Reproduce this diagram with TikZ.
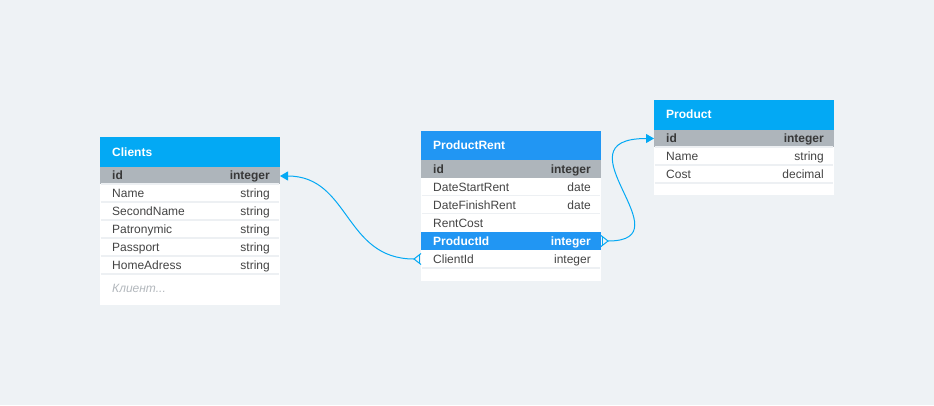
\documentclass[tikz,border=0pt]{standalone}
\usepackage{fontspec}
\setmainfont{Liberation Sans}
\usetikzlibrary{arrows.meta,calc}
\definecolor{bgc}{HTML}{EEF2F5}
\definecolor{hdrA}{HTML}{03A9F4}
\definecolor{hdrB}{HTML}{2196F3}
\definecolor{pkrow}{HTML}{AEB5BB}
\definecolor{sepc}{HTML}{EDF0F3}
\definecolor{txt}{HTML}{444444}
\definecolor{pktxt}{HTML}{383838}
\definecolor{hint}{HTML}{B3B8BD}
\definecolor{linec}{HTML}{03A9F4}
\tikzset{
  cell/.style={anchor=north west, minimum width=180pt, inner sep=0pt, outer sep=0pt},
  hdr/.style={cell, minimum height=30pt},
  pk/.style={cell, fill=pkrow, minimum height=17pt},
  fld/.style={cell, fill=white, minimum height=18pt},
  hl/.style={cell, fill=hdrB, minimum height=18pt},
  foot/.style={cell, fill=white},
  lbl/.style={anchor=base west, inner sep=0pt, font=\fontsize{12}{14}\selectfont, text=txt},
  typ/.style={anchor=base east, inner sep=0pt, font=\fontsize{12}{14}\selectfont, text=txt},
  pkl/.style={lbl, text=pktxt, font=\fontsize{12}{14}\selectfont\bfseries},
  pkt/.style={typ, text=pktxt, font=\fontsize{12}{14}\selectfont\bfseries},
  title/.style={anchor=base west, inner sep=0pt, font=\fontsize{12}{14}\selectfont\bfseries, text=white},
  sep/.style={draw=sepc, line width=1.5pt},
  conn/.style={draw=linec, line width=1pt},
  tip/.style={-{Triangle[length=8pt,width=9pt]}}
}
\begin{document}
\begin{tikzpicture}[x=1pt,y=-1pt]
\fill[bgc] (0,0) rectangle (934,405);
\useasboundingbox (0,0) rectangle (934,405);

% ---------- Clients ----------
\node[hdr, fill=hdrA] (clh) at (100,137) {};
\node[title] (clt) at (112,156.3) {Clients};
\node[pk] (clid) at (100,167) {};
\node[fld] (clname) at (100,184) {};
\node[fld] (clsec) at (100,202) {};
\node[fld] (clpat) at (100,220) {};
\node[fld] (clpas) at (100,238) {};
\node[fld] (clhome) at (100,256) {};
\node[foot, minimum height=31pt] (clfoot) at (100,274) {};
\foreach \yy in {184,202,220,238,256,274}{\draw[sep] (100.75,\yy) -- (279.25,\yy);}
\node[pkl] (clidl) at (112,179.8) {id};
\node[pkt] (clidt) at (270,179.8) {integer};
\node[lbl] (c1l) at (112,197.3) {Name};          \node[typ] (c1t) at (270,197.3) {string};
\node[lbl] (c2l) at (112,215.3) {SecondName};    \node[typ] (c2t) at (270,215.3) {string};
\node[lbl] (c3l) at (112,233.3) {Patronymic};    \node[typ] (c3t) at (270,233.3) {string};
\node[lbl] (c4l) at (112,251.3) {Passport};      \node[typ] (c4t) at (270,251.3) {string};
\node[lbl] (c5l) at (112,269.3) {HomeAdress};    \node[typ] (c5t) at (270,269.3) {string};
\node[lbl, text=hint, font=\fontsize{12}{14}\selectfont\itshape] (clhint) at (112,292.8) {Клиент...};

% ---------- ProductRent ----------
\node[hdr, fill=hdrB, minimum height=29pt] (prh) at (421,131) {};
\node[title] (prt) at (433,149.5) {ProductRent};
\node[pk, minimum height=17.5pt] (prid) at (421,160) {};
\node[fld] (prstart) at (421,177.5) {};
\node[fld] (prfin) at (421,195.5) {};
\node[fld] (prcost) at (421,213.5) {};
\node[hl] (prprod) at (421,232) {};
\node[fld] (prclient) at (421,250) {};
\node[foot, minimum height=13pt] (prfoot) at (421,268) {};
\foreach \yy in {195.5,213.5,268}{\draw[sep] (421.75,\yy) -- (600.25,\yy);}
\node[pkl] (pridl) at (433,173.3) {id};
\node[pkt] (pridt) at (591,173.3) {integer};
\node[lbl] (p1l) at (433,191.3) {DateStartRent};  \node[typ] (p1t) at (591,191.3) {date};
\node[lbl] (p2l) at (433,209.3) {DateFinishRent}; \node[typ] (p2t) at (591,209.3) {date};
\node[lbl] (p3l) at (433,227.3) {RentCost};
\node[title] (p4l) at (433,245.3) {ProductId};
\node[title, anchor=base east] (p4t) at (591,245.3) {integer};
\node[lbl] (p5l) at (433,263.3) {ClientId};       \node[typ] (p5t) at (591,263.3) {integer};

% ---------- Product ----------
\node[hdr, fill=hdrA] (ph) at (654,100) {};
\node[title] (pt) at (666,118.3) {Product};
\node[pk] (pid) at (654,130) {};
\node[fld] (pname) at (654,147) {};
\node[fld] (pcost) at (654,165) {};
\node[foot, minimum height=12pt] (pfoot) at (654,183) {};
\foreach \yy in {147,165,183}{\draw[sep] (654.75,\yy) -- (833.25,\yy);}
\node[pkl] (pidl) at (666,142.8) {id};
\node[pkt] (pidt) at (824,142.8) {integer};
\node[lbl] (q1l) at (666,160.3) {Name}; \node[typ] (q1t) at (824,160.3) {string};
\node[lbl] (q2l) at (666,178.3) {Cost}; \node[typ] (q2t) at (824,178.3) {decimal};

% ---------- connectors ----------
% ClientId -> Clients.id
\coordinate (cfa) at ($(prclient.west)+(-7,0)$);
\coordinate (cfaU) at ($(prclient.west)+(0,-5.5)$);
\coordinate (cfaD) at ($(prclient.west)+(0,5.5)$);
\coordinate (cfaVU) at ($(prclient.west)+(-1.5,-5)$);
\coordinate (cfaVD) at ($(prclient.west)+(-1.5,5)$);
\coordinate (cla) at ($(clid.east)+(0,0.5)$);
\draw[conn] (cfaU) -- (cfa) -- (cfaD);
\draw[conn] (cfaVU) -- (cfaVD);
\draw[conn, tip] (cfa) .. controls +(-70,0) and +(70,0) .. (cla);

% ProductId -> Product.id
\coordinate (cfb) at ($(prprod.east)+(7,0)$);
\coordinate (cfbU) at ($(prprod.east)+(0,-5.5)$);
\coordinate (cfbD) at ($(prprod.east)+(0,5.5)$);
\coordinate (cfbVU) at ($(prprod.east)+(1.5,-5)$);
\coordinate (cfbVD) at ($(prprod.east)+(1.5,5)$);
\coordinate (pa) at ($(pid.west)+(0,0)$);
\draw[conn] (cfbU) -- (cfb) -- (cfbD);
\draw[conn] (cfbVU) -- (cfbVD);
\draw[conn, tip] (cfb) .. controls +(80,0) and +(-100,0) .. (pa);
\end{tikzpicture}
\end{document}
